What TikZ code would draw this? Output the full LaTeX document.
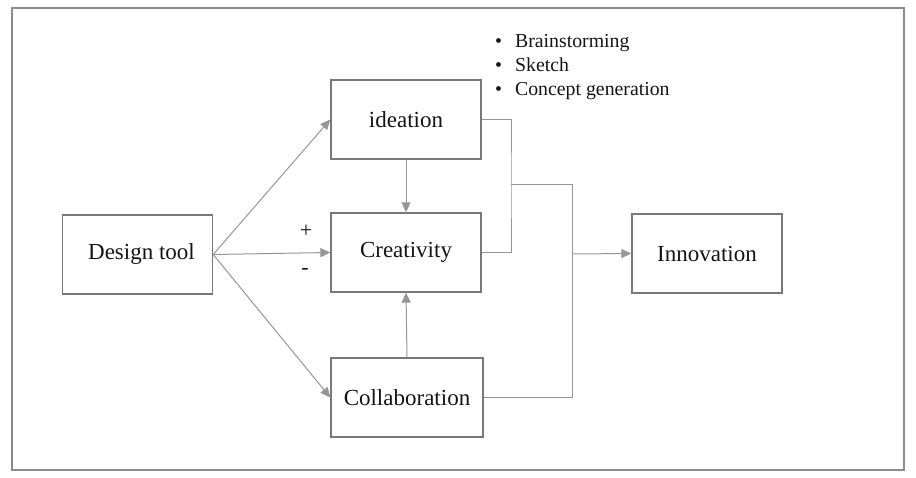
\documentclass[tikz,border=0pt]{standalone}
\usepackage{fontspec}
\setmainfont{Liberation Serif}
\usetikzlibrary{arrows.meta}
\definecolor{linegray}{RGB}{150,150,150}
\definecolor{boxgray}{RGB}{120,120,120}
\definecolor{framegray}{RGB}{140,140,140}
\definecolor{txt}{RGB}{20,20,20}
\tikzset{
  box/.style={draw=boxgray, line width=1.4pt, minimum width=150pt, minimum height=79pt, inner sep=0pt, font=\fontsize{23}{26}\selectfont, text=txt},
  conn/.style={draw=linegray, line width=1pt},
  arr/.style={conn, -{Triangle[length=10pt,width=9pt,fill=linegray]}},
  bul/.style={anchor=base west, inner sep=0pt, font=\fontsize{19.8}{22}\selectfont, text=txt},
  sign/.style={inner sep=0pt, font=\fontsize{22}{24}\selectfont, text=txt}
}
\begin{document}
\begin{tikzpicture}[x=1pt,y=-1pt]
\useasboundingbox (0,0) rectangle (916,478);
\draw[framegray, line width=1.2pt] (12,8) rectangle (904,470);
\node[box] (dt) at (137.5,254.5) {\hspace{8pt}Design tool};
\node[box] (id) at (406,119.5) {ideation};
\node[box] (cr) at (406,252.5) {Creativity};
\node[box, minimum width=152pt] (co) at (407,397.5) {Collaboration};
\node[box] (in) at (707,253.5) {Innovation};
\node[bul] (b1) at (495,48) {•\hspace{13pt}Brainstorming};
\node[bul] (b2) at (495,72) {•\hspace{13pt}Sketch};
\node[bul] (b3) at (495,96) {•\hspace{13pt}Concept generation};
\node[sign] (plus) at (306,231) {+};
\node[sign] (minus) at (305,271) {-};
\coordinate (j1) at (511,185);
\coordinate (j2) at (572,185);
\coordinate (j3) at (572,254);
\draw[arr] (dt.east) -- (id.west);
\draw[arr] (dt.east) -- (cr.west);
\draw[arr] (dt.east) -- (co.west);
\draw[arr] (id.south) -- (cr.north);
\draw[arr] (co.north) -- (cr.south);
\draw[conn] (id.east) -| (j1) |- (cr.east);
\draw[conn] (j1) -- (j2) |- (co.east);
\draw[arr] (j3) -- (in.west);
\end{tikzpicture}
\end{document}
